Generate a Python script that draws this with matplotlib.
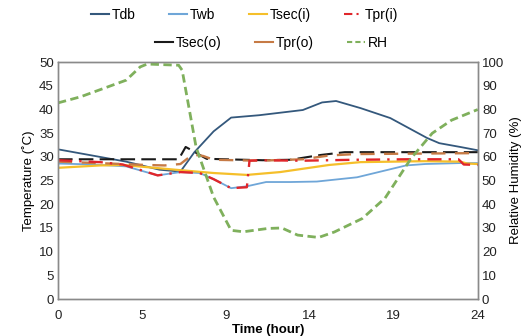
import numpy as np
import matplotlib
matplotlib.use("Agg")
import matplotlib.pyplot as plt
from matplotlib.lines import Line2D

plt.rcParams["font.family"] = ["Liberation Sans", "DejaVu Sans"]

TICK_LABELS = ["0", "5", "9", "14", "19", "24"]

# temperature series (deg C), x in chart hours 0..24
TDB_X = [0, 3.9, 5.8, 7.0, 7.8, 8.9, 9.9, 11.5, 14.0, 15.1, 15.9, 17.3, 19.0, 21.1, 21.8, 23.0, 24]
TDB_Y = [31.6, 29.0, 27.3, 26.9, 31.0, 35.4, 38.3, 38.8, 39.9, 41.5, 41.8, 40.3, 38.2, 34.0, 32.9, 32.1, 31.4]

TWB_X = [0, 2.0, 3.9, 5.7, 7.0, 8.1, 8.9, 9.9, 10.8, 11.9, 13.3, 14.8, 17.1, 19.9, 21.0, 23.0, 24]
TWB_Y = [28.6, 28.4, 28.0, 26.1, 26.8, 26.6, 25.3, 23.4, 23.8, 24.7, 24.7, 24.8, 25.7, 28.2, 28.5, 28.7, 28.7]

TSECI_X = [0, 2.4, 3.7, 7.0, 8.9, 10.8, 12.7, 15.5, 16.1, 17.3, 21.0, 23.0, 23.4, 24]
TSECI_Y = [27.7, 28.2, 28.3, 27.2, 26.6, 26.2, 26.8, 28.3, 28.5, 28.9, 29.1, 29.0, 28.6, 28.5]

TPRI_X = [0, 2.4, 3.7, 5.7, 7.0, 8.1, 8.9, 9.9, 10.8, 10.95, 11.5, 14.0, 17.0, 20.0, 22.9, 23.2, 24]
TPRI_Y = [29.3, 28.9, 28.4, 26.1, 26.8, 26.6, 25.3, 23.4, 23.6, 29.2, 29.3, 29.2, 29.4, 29.5, 29.5, 28.4, 28.3]

TSECO_X = [0, 6.9, 7.3, 7.6, 8.3, 8.5, 11.7, 13.3, 15.0, 16.4, 24]
TSECO_Y = [29.5, 29.5, 32.1, 31.5, 30.0, 29.6, 29.3, 29.4, 30.4, 31.0, 31.0]

TPRO_X = [0, 3.0, 5.0, 6.1, 7.0, 7.7, 8.3, 8.9, 11.5, 14.0, 15.5, 17.0, 24]
TPRO_Y = [29.0, 28.6, 28.3, 28.2, 28.5, 30.5, 30.2, 29.4, 29.2, 29.5, 30.3, 30.6, 30.8]

# relative humidity (%)
RH_X = [0, 1.3, 3.9, 4.7, 5.1, 6.9, 7.1, 7.9, 8.9, 9.9, 10.6, 12.0, 12.8, 13.7, 14.9,
        15.8, 17.4, 18.7, 20.2, 21.4, 22.5, 24]
RH_Y = [82.8, 85.4, 92.4, 98, 99.2, 98.7, 96.6, 64, 43, 29, 28.4, 29.8, 30, 27, 26,
        28.3, 34, 42.6, 59.5, 70, 75.5, 80]

C_TDB = "#34587c"
C_TWB = "#6fa6d8"
C_TSECI = "#f5bf2a"
C_TPRI = "#e0262b"
C_TSECO = "#1a1a1a"
C_TPRO = "#c67a45"
C_RH = "#7fb05c"

fig = plt.figure(figsize=(5.32, 3.36), dpi=100)
ax = fig.add_axes([0.109, 0.110, 0.789, 0.705])
ax2 = ax.twinx()

lw = 1.3
ax.plot(TDB_X, TDB_Y, color=C_TDB, lw=lw)
ax.plot(TWB_X, TWB_Y, color=C_TWB, lw=lw)
ax.plot(TSECI_X, TSECI_Y, color=C_TSECI, lw=lw + 0.3)
ax.plot(TSECO_X, TSECO_Y, color=C_TSECO, lw=lw + 0.2, dashes=(7, 3))
ax.plot(TPRO_X, TPRO_Y, color=C_TPRO, lw=lw + 0.4, dashes=(6, 4))
ax.plot(TPRI_X, TPRI_Y, color=C_TPRI, lw=lw + 0.4, dashes=(6, 3, 1, 3))
ax2.plot(RH_X, RH_Y, color=C_RH, lw=2.0, dashes=(3, 1.6))

ax.set_xlim(0, 24)
ax.set_ylim(0, 50)
ax2.set_ylim(0, 100)
ax.set_xticks(np.linspace(0, 24, len(TICK_LABELS)))
ax.set_xticklabels(TICK_LABELS)
ax.set_yticks(np.arange(0, 51, 5))
ax2.set_yticks(np.arange(0, 101, 10))

for a in (ax, ax2):
    a.tick_params(length=0, labelsize=9.5, colors="#222222", pad=3)
    for s in a.spines.values():
        s.set_color("#8a8a8a")
        s.set_linewidth(1.0)
ax.tick_params(axis="x", pad=8)

ax.set_xlabel("Time (hour)", fontsize=9.5, fontweight="bold", labelpad=1)
ax.set_ylabel("Temperature (\u02daC)", fontsize=9.5, labelpad=3)
ax2.set_ylabel("Relative Humidity (%)", fontsize=9.5, labelpad=4)

h1 = [Line2D([], [], color=C_TDB, lw=1.5),
      Line2D([], [], color=C_TWB, lw=1.5),
      Line2D([], [], color=C_TSECI, lw=1.5),
      Line2D([], [], color=C_TPRI, lw=1.5, dashes=(4, 2, 1, 2))]
h2 = [Line2D([], [], color=C_TSECO, lw=1.5),
      Line2D([], [], color=C_TPRO, lw=1.5),
      Line2D([], [], color=C_RH, lw=1.5, dashes=(2.5, 1.5))]
leg1 = fig.legend(h1, ["Tdb", "Twb", "Tsec(i)", "Tpr(i)"], ncol=4, loc="center",
                  bbox_to_anchor=(0.46, 0.955), frameon=False, fontsize=10,
                  handlelength=1.3, handletextpad=0.2, columnspacing=2.4)
leg2 = fig.legend(h2, ["Tsec(o)", "Tpr(o)", "RH"], ncol=3, loc="center",
                  bbox_to_anchor=(0.51, 0.872), frameon=False, fontsize=10,
                  handlelength=1.3, handletextpad=0.2, columnspacing=2.4)

fig.savefig("out.png", dpi=100)
